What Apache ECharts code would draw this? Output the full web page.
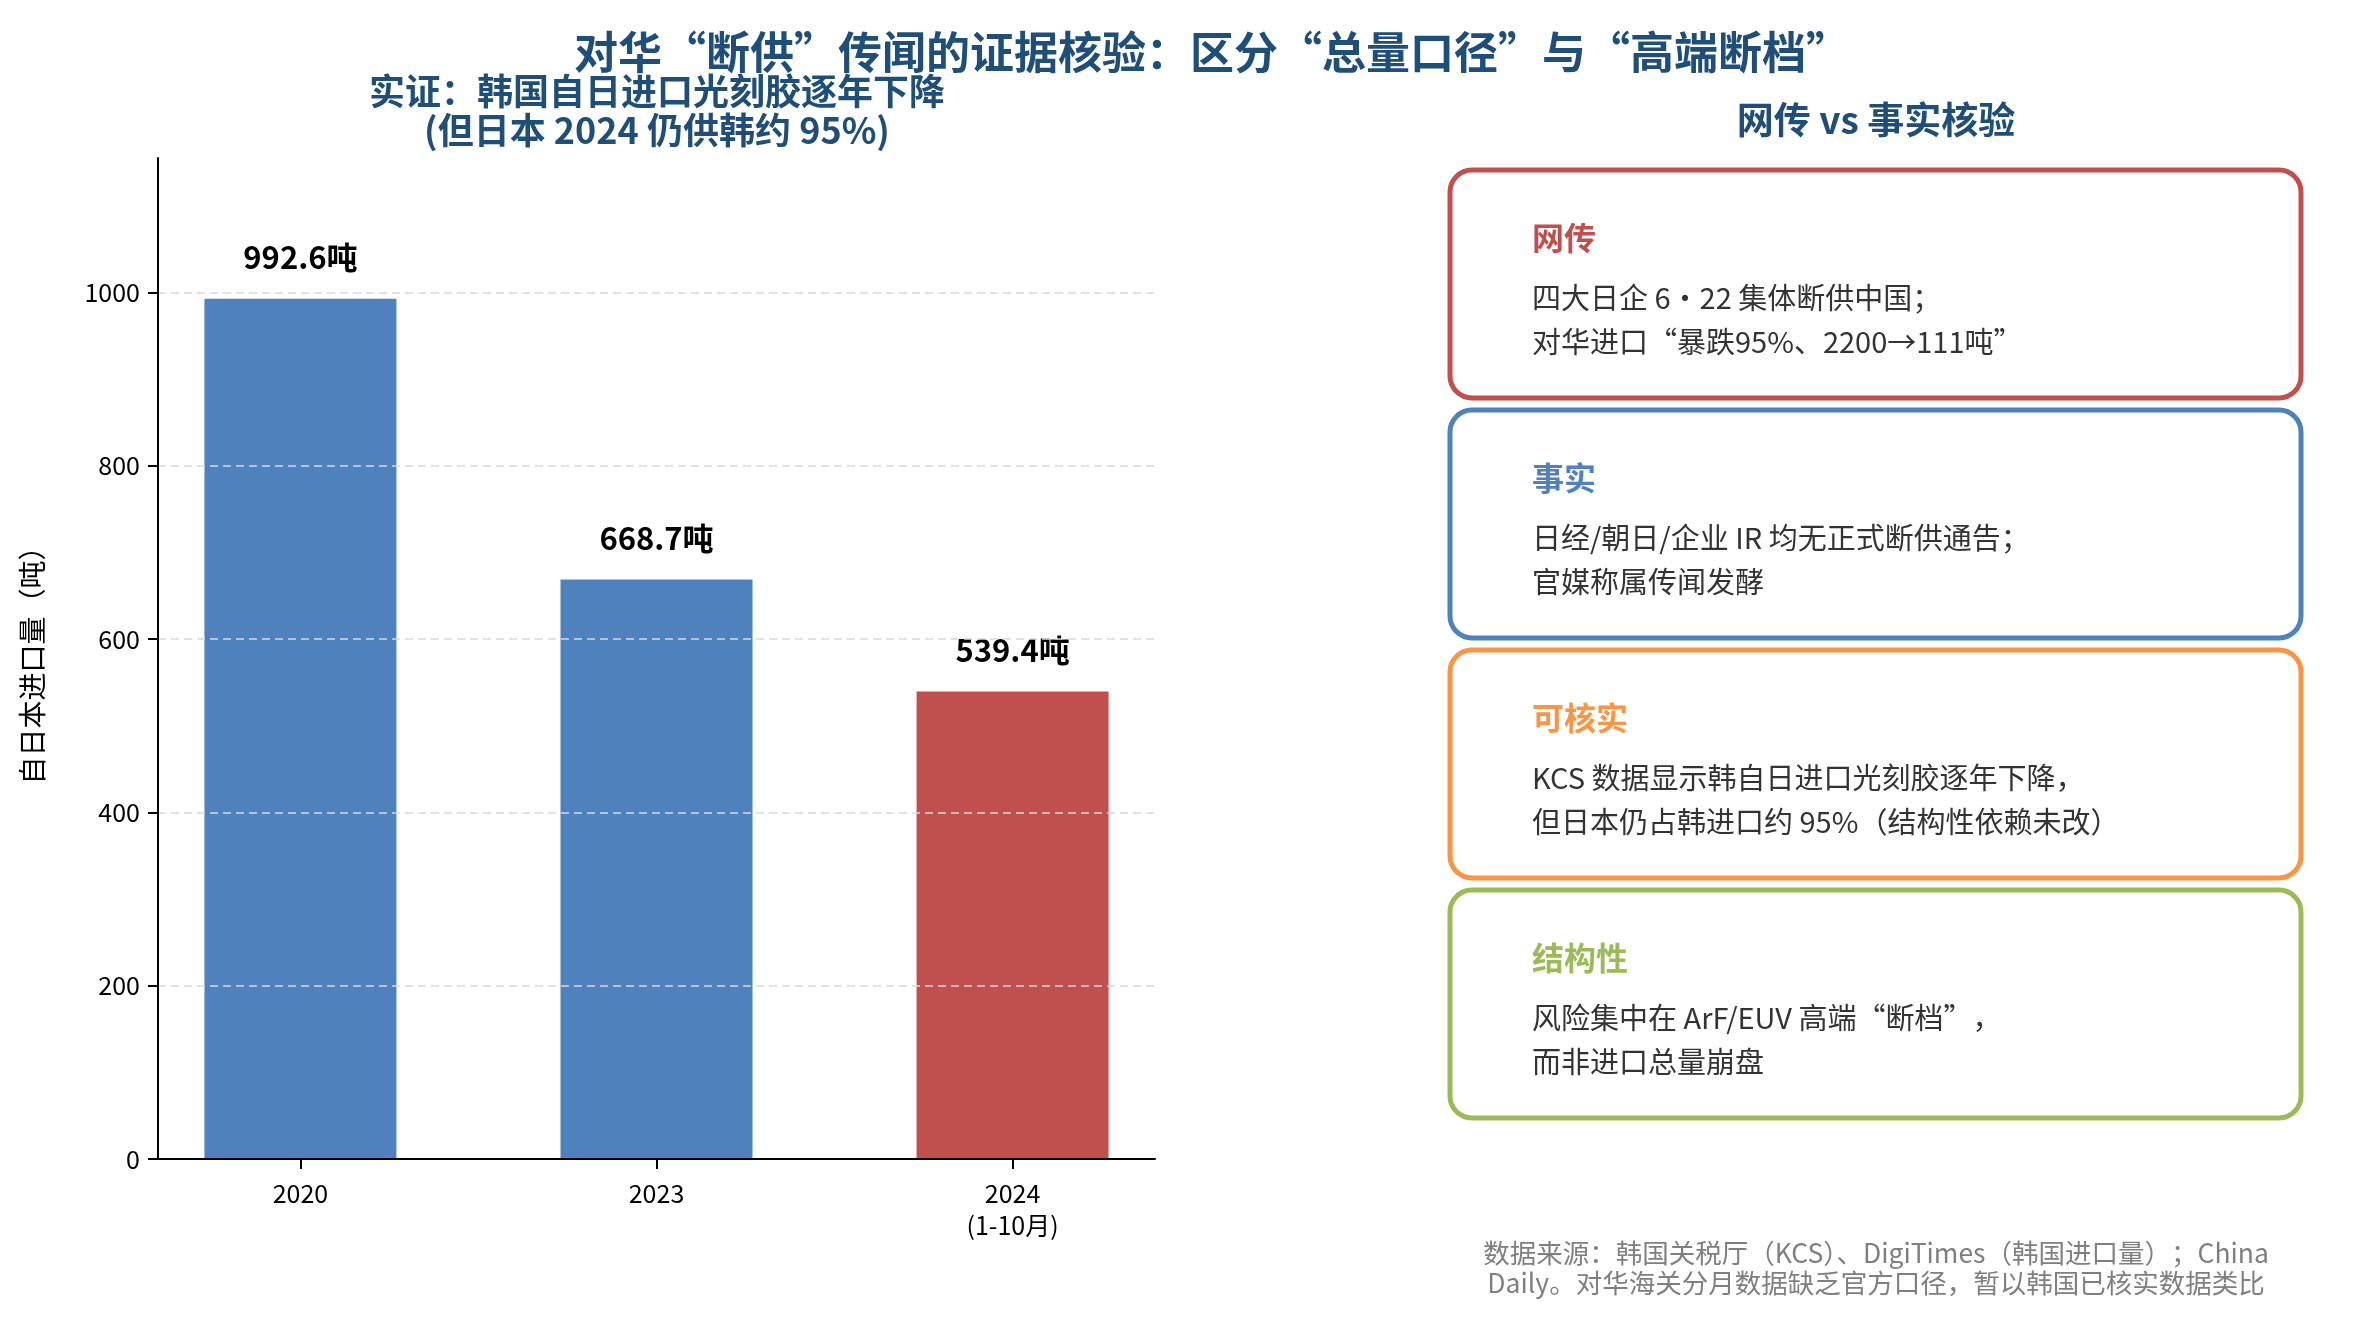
<!DOCTYPE html>
<html>
<head>
<meta charset="utf-8">
<script src="https://cdn.jsdelivr.net/npm/echarts@6/dist/echarts.min.js"></script>
<style>
	html, body { margin: 0; padding: 0; background: #fff; }
	#chart { width: 2358px; height: 1328px; }
</style>
</head>
<body>
<div id="chart"></div>
<script>
var years = ['2020', '2023', '2024\n(1-10月)'];
var imports = [992.6, 668.7, 539.4];
var barColors = ['#4F81BD', '#4F81BD', '#C0504D'];
var yTicks = [0, 200, 400, 600, 800, 1000];

var cardTitles = ['网传', '事实', '可核实', '结构性'];
var cardLines = [
	['四大日企 6·22 集体断供中国；', '对华进口“暴跌95%、2200→111吨”'],
	['日经/朝日/企业 IR 均无正式断供通告；', '官媒称属传闻发酵'],
	['KCS 数据显示韩自日进口光刻胶逐年下降，', '但日本仍占韩进口约 95%（结构性依赖未改）'],
	['风险集中在 ArF/EUV 高端“断档”，', '而非进口总量崩盘']
];
var cardColors = ['#C0504D', '#4F81BD', '#F79646', '#9BBB59'];

var FONT = '"Noto Sans CJK SC", "Noto Sans", sans-serif';
var TITLE_COLOR = '#1F4E79';

function renderChart(ele) {
	var dom = document.getElementById(ele);
	var myChart = echarts.init(dom);

	var xIdx = years.map(function(y, i) { return i; });

	var graphics = [];
	// main title
	graphics.push({
		type: 'text', x: 1212, y: 52,
		style: {
			text: '对华“断供”传闻的证据核验：区分“总量口径”与“高端断档”',
			font: 'bold 44px ' + FONT, fill: TITLE_COLOR,
			align: 'center', verticalAlign: 'middle', textAlign: 'center', textVerticalAlign: 'middle'
		}
	});
	// left subtitle
	graphics.push({
		type: 'text', x: 657, y: 111,
		style: {
			text: '实证：韩国自日进口光刻胶逐年下降\n(但日本 2024 仍供韩约 95%)',
			font: 'bold 36px ' + FONT, fill: TITLE_COLOR, lineHeight: 39,
			align: 'center', verticalAlign: 'middle', textAlign: 'center', textVerticalAlign: 'middle'
		}
	});
	// right panel title
	graphics.push({
		type: 'text', x: 1876, y: 120,
		style: {
			text: '网传 vs 事实核验',
			font: 'bold 37px ' + FONT, fill: TITLE_COLOR,
			align: 'center', verticalAlign: 'middle', textAlign: 'center', textVerticalAlign: 'middle'
		}
	});

	// cards
	cardTitles.forEach(function(t, i) {
		var top = 170 + 240 * i;
		graphics.push({
			type: 'rect',
			shape: { x: 1450, y: top, width: 851, height: 228, r: 22 },
			style: { fill: '#fff', stroke: cardColors[i], lineWidth: 5 }
		});
		graphics.push({
			type: 'text', x: 1532, y: top + 68,
			style: {
				text: t, font: 'bold 32px ' + FONT, fill: cardColors[i],
				align: 'left', verticalAlign: 'middle', textAlign: 'left', textVerticalAlign: 'middle'
			}
		});
		graphics.push({
			type: 'text', x: 1532, y: top + 150,
			style: {
				text: cardLines[i].join('\n'), font: '29px ' + FONT, fill: '#333333', lineHeight: 44,
				align: 'left', verticalAlign: 'middle', textAlign: 'left', textVerticalAlign: 'middle'
			}
		});
	});

	// source note
	graphics.push({
		type: 'text', x: 1876, y: 1268,
		style: {
			text: '数据来源：韩国关税厅（KCS）、DigiTimes（韩国进口量）；China\nDaily。对华海关分月数据缺乏官方口径，暂以韩国已核实数据类比',
			font: '26.5px ' + FONT, fill: '#7f7f7f', lineHeight: 30,
			align: 'center', verticalAlign: 'middle', textAlign: 'center', textVerticalAlign: 'middle'
		}
	});

	var option = {
		backgroundColor: '#fff',
		animation: false,
		textStyle: { fontFamily: FONT },
		grid: { left: 158, top: 158, width: 997, height: 1001 },
		xAxis: {
			type: 'value',
			min: -0.4,
			max: 2.4,
			z: 6,
			splitLine: { show: false },
			axisLine: { show: true, onZero: false, lineStyle: { color: '#000', width: 2 } },
			axisTick: { show: true, length: 10, customValues: xIdx, lineStyle: { color: '#000', width: 2 } },
			axisLabel: {
				customValues: xIdx,
				margin: 18,
				fontSize: 25,
				lineHeight: 32,
				color: '#000',
				formatter: function(v) { return years[Math.round(v)]; }
			}
		},
		yAxis: {
			type: 'value',
			min: 0,
			max: 1155,
			interval: 200,
			z: 5,
			name: '自日本进口量（吨）',
			nameLocation: 'middle',
			nameGap: 112,
			nameTextStyle: { fontSize: 28, color: '#000' },
			axisLine: { show: true, onZero: false, lineStyle: { color: '#000', width: 2 } },
			axisTick: { show: true, length: 10, customValues: yTicks, lineStyle: { color: '#000', width: 2 } },
			axisLabel: {
				customValues: yTicks,
				margin: 18,
				fontSize: 25,
				color: '#000',
				formatter: function(v) { return String(v); }
			},
			splitLine: {
				show: true,
				showMinLine: false,
				lineStyle: { color: '#d9d9d9', type: [8, 5], width: 1.5 }
			}
		},
		series: [{
			type: 'bar',
			barWidth: 192,
			data: imports.map(function(v, i) {
				return { value: [xIdx[i], v], itemStyle: { color: barColors[i] } };
			}),
			label: {
				show: true,
				position: 'top',
				distance: 26,
				fontSize: 31,
				fontWeight: 'bold',
				color: '#000',
				formatter: function(p) { return p.value[1].toFixed(1) + '吨'; }
			}
		}],
		graphic: graphics
	};

	myChart.setOption(option);

	window.addEventListener('resize', function() {
		myChart.resize();
	});
}

renderChart('chart');
</script>
</body>
</html>
